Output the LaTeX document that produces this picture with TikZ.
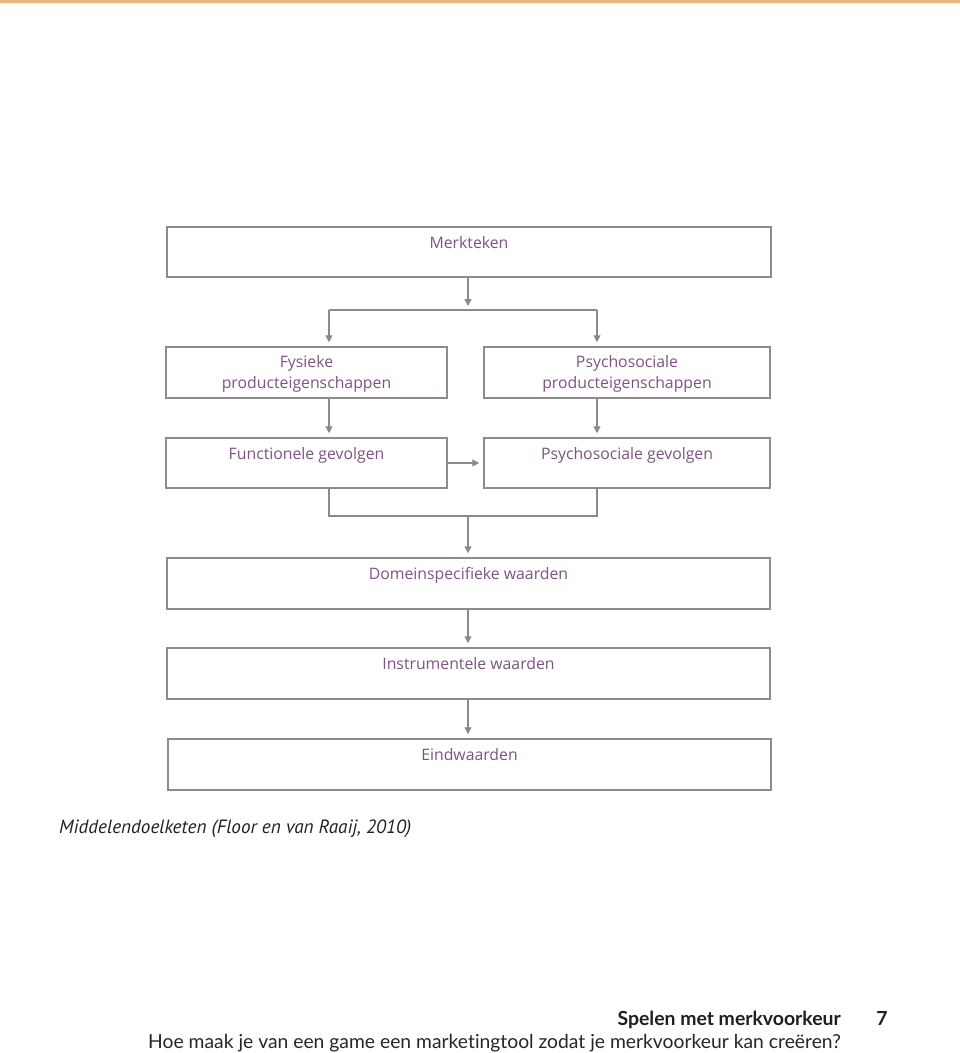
\documentclass[tikz,border=0pt]{standalone}
\usepackage{fontspec}
\setmainfont{Open Sans}
\newfontfamily\capfont{PT Sans}
\newfontfamily\footfont[Ligatures=NoCommon]{Lato}
\usetikzlibrary{arrows.meta}
\definecolor{boxgray}{HTML}{8E8A8E}
\definecolor{linegray}{HTML}{8A8A8A}
\definecolor{txtpurple}{HTML}{7E5283}
\definecolor{topline}{HTML}{E9B77C}
\definecolor{captxt}{HTML}{222222}
\tikzset{
  box/.style={draw=boxgray, line width=1.5pt, rectangle, inner sep=0pt},
  lbl/.style={text=txtpurple, font=\fontsize{15.8}{21}\selectfont, inner sep=0pt, align=center, anchor=base},
  conn/.style={draw=linegray, line width=1.3pt},
  arr/.style={conn, -{Triangle[width=7pt,length=7pt]}, shorten >=4pt},
}
\begin{document}
\begin{tikzpicture}[x=1pt,y=-1pt]
\useasboundingbox (0,0) rectangle (960,1053);
\fill[white] (0,0) rectangle (960,1053);
\fill[topline] (0,0) rectangle (960,2.5);
\fill[topline!25] (0,2.5) rectangle (960,4);

% boxes
\node[box, minimum width=604pt, minimum height=50pt] (m) at (469,252) {};
\node[box, minimum width=281pt, minimum height=51pt] (fy) at (306.5,372.5) {};
\node[box, minimum width=286pt, minimum height=51pt] (ps) at (627,372.5) {};
\node[box, minimum width=281pt, minimum height=50pt] (fu) at (306.5,463) {};
\node[box, minimum width=286pt, minimum height=50pt] (pg) at (627,463) {};
\node[box, minimum width=603pt, minimum height=51pt] (dw) at (468.5,583.5) {};
\node[box, minimum width=603pt, minimum height=51pt] (iw) at (468.5,673.5) {};
\node[box, minimum width=603pt, minimum height=51pt] (ew) at (469.5,764.5) {};

% labels
\node[lbl] (tm) at ([yshift=-22pt]m.north) {Merkteken};
\node[lbl] (tfy) at ([yshift=-42pt]fy.north) {Fysieke\\producteigenschappen};
\node[lbl] (tps) at ([yshift=-42pt]ps.north) {Psychosociale\\producteigenschappen};
\node[lbl] (tfu) at ([yshift=-22pt]fu.north) {Functionele gevolgen};
\node[lbl] (tpg) at ([yshift=-22pt]pg.north) {Psychosociale gevolgen};
\node[lbl] (tdw) at ([yshift=-22pt]dw.north) {Domeinspecifieke waarden};
\node[lbl] (tiw) at ([yshift=-22pt]iw.north) {Instrumentele waarden};
\node[lbl] (tew) at ([yshift=-22pt]ew.north) {Eindwaarden};

% junctions
\coordinate (j1) at (468,310);
\coordinate (j1l) at (329,310);
\coordinate (j1r) at (597,310);
\coordinate (j2) at (468,516);
\coordinate (j2l) at (329,516);
\coordinate (j2r) at (597,516);

% connectors
\draw[arr] (m.south -| j1) -- (j1);
\draw[conn] (j1l) -- (j1r);
\draw[arr] (j1l) -- (j1l |- fy.north);
\draw[arr] (j1r) -- (j1r |- ps.north);
\draw[arr] (fy.south -| j1l) -- (fu.north -| j1l);
\draw[arr] (ps.south -| j1r) -- (pg.north -| j1r);
\draw[arr] (fu.east) -- (pg.west);
\draw[conn] (fu.south -| j2l) -- (j2l) -- (j2r) -- (pg.south -| j2r);
\draw[arr] (j2) -- (dw.north -| j2);
\draw[arr] (dw.south -| j2) -- (iw.north -| j2);
\draw[arr] (iw.south -| j2) -- (ew.north -| j2);

% caption
\node[anchor=base west, inner sep=0pt, text=captxt, font=\capfont\itshape\fontsize{19.2}{22}\selectfont] (cap) at (59,833) {Middelendoelketen (Floor en van Raaij, 2010)};

% footer
\node[anchor=base east, inner sep=0pt, text=black!88, font=\footfont\bfseries\fontsize{19.4}{22}\selectfont] (ft1) at (841,1025) {Spelen met merkvoorkeur};
\node[anchor=base, inner sep=0pt, text=black!88, font=\footfont\bfseries\fontsize{19.4}{22}\selectfont] (pg7) at (882,1025) {7};
\node[anchor=base east, inner sep=0pt, text=black!85, font=\footfont\fontsize{19.3}{22}\selectfont] (ft2) at (841,1048) {Hoe maak je van een game een marketingtool zodat je merkvoorkeur kan creëren?};
\end{tikzpicture}
\end{document}
